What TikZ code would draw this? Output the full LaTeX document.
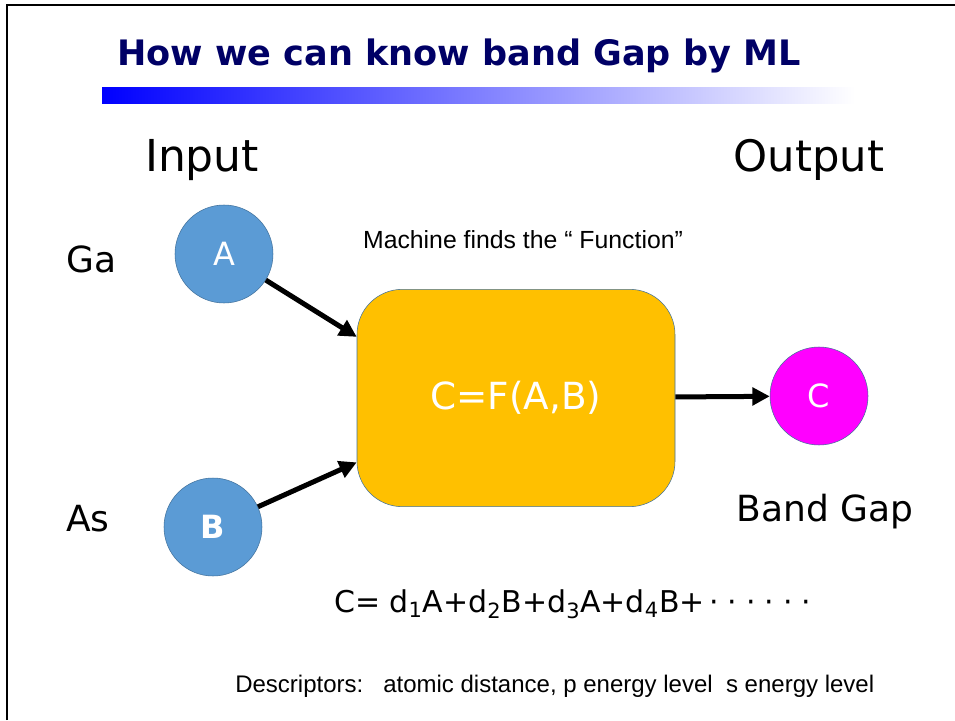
\documentclass[tikz,border=0pt]{standalone}
\usepackage{fontspec}
\setmainfont{DejaVu Sans}
\newfontfamily\arialfont{Liberation Sans}
\usetikzlibrary{arrows.meta}

\definecolor{titleblue}{HTML}{000066}
\definecolor{inblue}{HTML}{5B9BD5}
\definecolor{edgeblue}{HTML}{41719C}
\definecolor{boxorange}{HTML}{FFC000}
\definecolor{outpink}{HTML}{FF00FF}

\newcommand{\md}{\kern.15em·\kern.15em}

\begin{document}
\begin{tikzpicture}[x=0.75pt, y=-0.75pt,
  atom/.style={draw=edgeblue, circle, fill=inblue, minimum size=73.5pt, inner sep=0pt, text=white, font=\fontsize{24}{28}\selectfont},
  link/.style={line width=3.75pt, -{Triangle[length=13pt, width=13pt]}},
  word/.style={anchor=base, inner sep=0pt, font=\fontsize{27}{32}\selectfont}]

    \useasboundingbox (0, 0) rectangle (955, 720);
    \draw [line width=2pt] (7, 720) -- (7, 5) -- (955, 5);

    \node [anchor=base west, inner sep=0pt, text=titleblue, font=\fontsize{26.3}{30}\selectfont\bfseries] (title) at (117, 66) {How we can know band Gap by ML};
    \shade [left color=blue, right color=white] (102, 88) rectangle (855, 104);

    \node [word, font=\fontsize{33}{38}\selectfont] (input) at (202, 172) {Input};
    \node [word, font=\fontsize{32.5}{38}\selectfont] (output) at (809, 172) {Output};
    \node [word, anchor=base west] (ga) at (66, 272) {Ga};
    \node [word, anchor=base west] (as) at (66, 531) {As};
    \node [word] (gap) at (825, 521) {Band Gap};

    \node [atom] (A) at (224, 254) {A};
    \node [atom, font=\fontsize{24}{28}\selectfont\bfseries] (B) at (213, 527) {B};
    \node [atom, fill=outpink] (C) at (819, 396) {C};

    \node [draw=edgeblue, fill=boxorange, rounded corners=34pt, minimum width=238.5pt, minimum height=163pt, text=white, font=\fontsize{28}{32}\selectfont] (box) at (516, 398) {C=F(A,B)};
    \node [word, font=\arialfont\fontsize{18.6}{22}\selectfont] (finds) at (523, 248) {Machine finds the “ Function”};

    \draw [link] (A) -- (box.159);
    \draw [link] (B) -- (box.202);
    \draw [link] (box) -- (C);

    \node [word, font=\fontsize{22.5}{26}\selectfont] (eq) at (575, 612) {C= d\textsubscript{1}A+d\textsubscript{2}B+d\textsubscript{3}A+d\textsubscript{4}B+\md\md\md\md\md\md};
    \node [word, anchor=base west, font=\arialfont\fontsize{18}{22}\selectfont] (desc) at (235, 692) {Descriptors:\ \ \ atomic distance, p energy level\ \ s energy level};

  \end{tikzpicture}
\end{document}
